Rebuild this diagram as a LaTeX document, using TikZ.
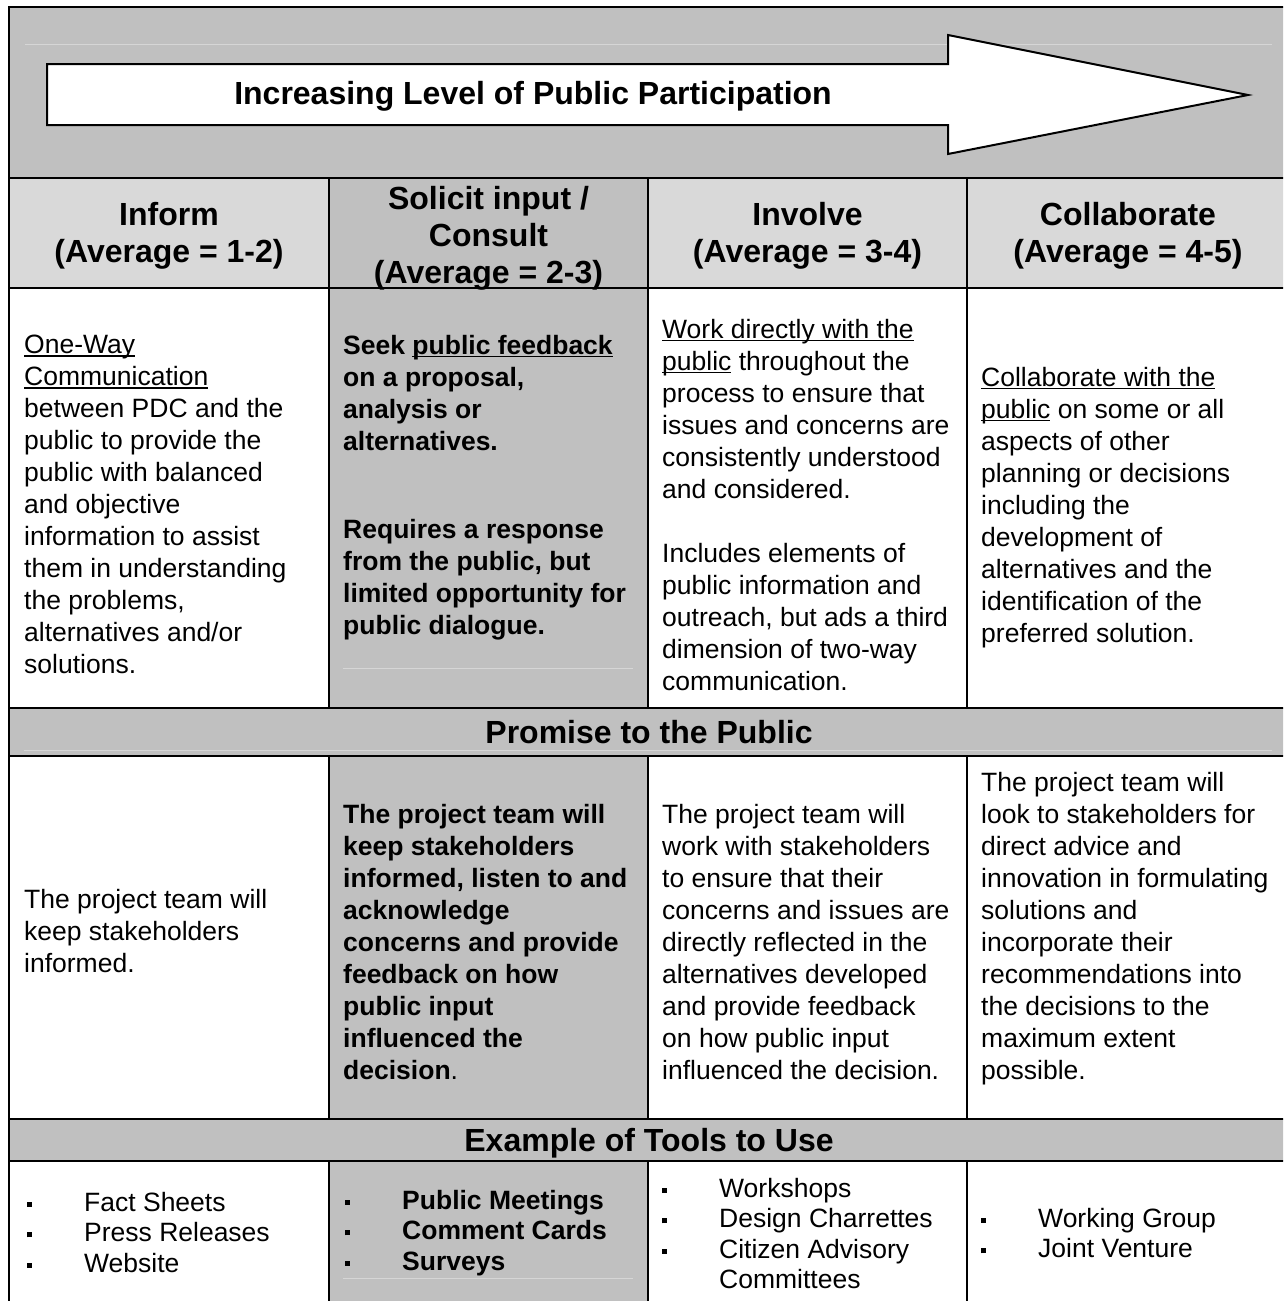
\documentclass[tikz,border=0pt]{standalone}
\usepackage{fontspec}
\setmainfont{Liberation Sans}
\definecolor{gA}{HTML}{C0C0C0}
\definecolor{gB}{HTML}{D9D9D9}
\definecolor{gF}{HTML}{D6D6D6}
\newsavebox\ulbx
\newcommand\myul[1]{\leavevmode\sbox\ulbx{#1}\rlap{\rule[-3pt]{\wd\ulbx}{1.6pt}}\usebox\ulbx}
\newcommand\sqb{\rule[4.5pt]{5pt}{5pt}}
\newcommand\itm[1]{\makebox[57pt][l]{\sqb}#1}
\tikzset{
  gridline/.style={line width=2.2pt, draw=black},
  body/.style={font=\fontsize{26.5}{32}\selectfont, align=left, inner sep=0pt, anchor=north west},
  bbody/.style={body, font=\fontsize{26.5}{32}\selectfont\bfseries},
  tool/.style={body, font=\fontsize{26.5}{30.5}\selectfont},
  btool/.style={body, font=\fontsize{26.5}{30.5}\selectfont\bfseries},
  head/.style={font=\fontsize{32}{37}\selectfont\bfseries, align=center, inner sep=0pt},
  faint/.style={draw=gF, line width=1pt},
}
\begin{document}
\begin{tikzpicture}[x=1pt, y=-1pt]
\useasboundingbox (0,0) rectangle (1283,1301);
\clip (0,0) rectangle (1283,1301);
% fills
\fill[white] (0,0) rectangle (1283,1301);
\fill[gA] (9,7) rectangle (1289,178);
\fill[gB] (9,178) rectangle (1289,288);
\fill[gA] (329,178) rectangle (648,1320);
\fill[gA] (9,708) rectangle (1289,756);
\fill[gA] (9,1119) rectangle (1289,1161);
% faint lines
\draw[faint] (25,44) -- (1272,44);
\draw[faint] (24,750) -- (1272,750);
\draw[faint] (343,668) -- (633,668);
\draw[faint] (343,1278) -- (633,1278);
% grid
\draw[gridline] (9,7) rectangle (1289,1320);
\foreach \yy in {178,288,708,756,1119,1161} \draw[gridline] (9,\yy) -- (1289,\yy);
\foreach \xx in {329,648,967} {
  \draw[gridline] (\xx,178) -- (\xx,708);
  \draw[gridline] (\xx,756) -- (\xx,1119);
  \draw[gridline] (\xx,1161) -- (\xx,1320);
}
% arrow
\draw[line width=2pt, fill=white, line join=miter] (47,64) -- (948,64) -- (948,35) -- (1248,95) -- (948,154) -- (948,125) -- (47,125) -- cycle;
\node[head] (arrowtext) at (533,96) {Increasing Level of Public Participation};
% headers
\node[head] (h1) at (169,236) {Inform\\(Average = 1-2)};
\node[head] (h2) at (488.5,238) {Solicit input /\\Consult\\(Average = 2-3)};
\node[head] (h3) at (807.5,236) {Involve\\(Average = 3-4)};
\node[head] (h4) at (1128,236) {Collaborate\\(Average = 4-5)};
% descriptions
\node[body] (d1) at (24,335) {\myul{One-Way}\\\myul{Communication}\\between PDC and the\\public to provide the\\public with balanced\\and objective\\information to assist\\them in understanding\\the problems,\\alternatives and/or\\solutions.};
\node[bbody] (d2) at (343,335) {Seek \myul{public feedback}\\on a proposal,\\analysis or\\alternatives.\\[56pt]Requires a response\\from the public, but\\limited opportunity for\\public dialogue.};
\node[body] (d3) at (662,319) {\myul{Work directly with the}\\\myul{public} throughout the\\process to ensure that\\issues and concerns are\\consistently understood\\and considered.\\[32pt]Includes elements of\\public information and\\outreach, but ads a third\\dimension of two-way\\communication.};
\node[body] (d4) at (981,367) {\myul{Collaborate with the}\\\myul{public} on some or all\\aspects of other\\planning or decisions\\including the\\development of\\alternatives and the\\identification of the\\preferred solution.};
% promise
\node[head] (ph) at (649,732) {Promise to the Public};
\node[body] (p1) at (24,889) {The project team will\\keep stakeholders\\informed.};
\node[bbody] (p2) at (343,804) {The project team will\\keep stakeholders\\informed, listen to and\\acknowledge\\concerns and provide\\feedback on how\\public input\\influenced the\\decision{\mdseries .}};
\node[body] (p3) at (662,804) {The project team will\\work with stakeholders\\to ensure that their\\concerns and issues are\\directly reflected in the\\alternatives developed\\and provide feedback\\on how public input\\influenced the decision.};
\node[body] (p4) at (981,772) {The project team will\\look to stakeholders for\\direct advice and\\innovation in formulating\\solutions and\\incorporate their\\recommendations into\\the decisions to the\\maximum extent\\possible.};
% tools
\node[head] (th) at (649,1143) {Example of Tools to Use};
\node[tool] (t1) at (27,1192) {\itm{Fact Sheets}\\\itm{Press Releases}\\\itm{Website}};
\node[btool] (t2) at (345,1190) {\itm{Public Meetings}\\\itm{Comment Cards}\\\itm{Surveys}};
\node[tool] (t3) at (662,1178) {\itm{Workshops}\\\itm{Design Charrettes}\\\itm{Citizen Advisory}\\\makebox[57pt]{}Committees};
\node[tool] (t4) at (981,1208) {\itm{Working Group}\\\itm{Joint Venture}};
\end{tikzpicture}
\end{document}
